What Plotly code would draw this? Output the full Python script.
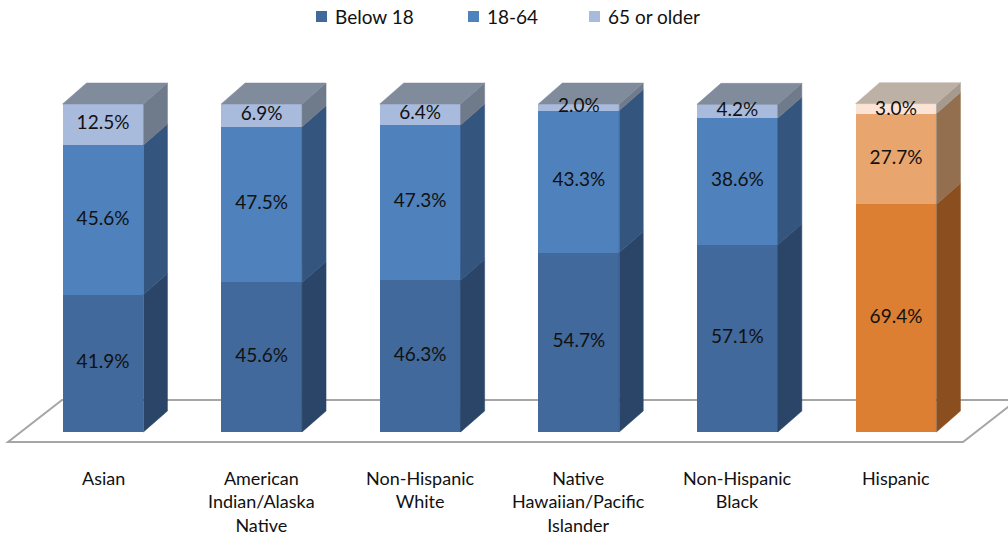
import plotly.graph_objects as go

# ---------------- data ----------------
categories = ["Asian", "American<br>Indian/Alaska<br>Native", "Non-Hispanic<br>White",
              "Native<br>Hawaiian/Pacific<br>Islander", "Non-Hispanic<br>Black", "Hispanic"]
below18 = [41.9, 45.6, 46.3, 54.7, 57.1, 69.4]
age18_64 = [45.6, 47.5, 47.3, 43.3, 38.6, 27.7]
age65plus = [12.5, 6.9, 6.4, 2.0, 4.2, 3.0]
series_names = ["Below 18", "18-64", "65 or older"]

# ---------------- style ----------------
W, H = 1008, 540
PX_X, X0PX = 158.6, 103.0      # pixels per category, pixel of first category
PX_Y, Y0PX = 3.28, 432.0       # pixels per percent, pixel of zero
BAR_W = 0.51
DX = 24 / PX_X
DY = 21 / PX_Y
FONT = "Lato"
TXT = "#111111"

blue = dict(front=["#41699B", "#4F81BD", "#A9BBDC"],
            side=["#2A4568", "#34557E", "#6F7A8B"],
            top="#808B9C")
orange = dict(front=["#DC7F32", "#E8A56D", "#FBE4D5"],
              side=["#8B4F1F", "#936F4F", "#A69A8F"],
              top="#BDB0A5")
palettes = [blue] * 5 + [orange]

series = [below18, age18_64, age65plus]
n = len(categories)
xs = list(range(n))

fig = go.Figure()

# front faces (stacked bars)
for j, (name, vals) in enumerate(zip(series_names, series)):
    fig.add_trace(go.Bar(
        x=xs, y=vals, name=name, width=BAR_W,
        marker=dict(color=[p["front"][j] for p in palettes], line=dict(width=0)),
        hoverinfo="name+y", showlegend=False,
    ))

# side and top faces (3D effect) from data
for i in xs:
    p = palettes[i]
    xr = i + BAR_W / 2
    xl = i - BAR_W / 2
    base = 0.0
    for j, vals in enumerate(series):
        top = base + vals[i]
        fig.add_trace(go.Scatter(
            x=[xr, xr + DX, xr + DX, xr, xr],
            y=[base, base + DY, top + DY, top, base],
            fill="toself", mode="lines", fillcolor=p["side"][j],
            line=dict(color=p["side"][j], width=0.5),
            showlegend=False, hoverinfo="skip"))
        base = top
    fig.add_trace(go.Scatter(
        x=[xl, xr, xr + DX, xl + DX, xl],
        y=[base, base, base + DY, base + DY, base],
        fill="toself", mode="lines", fillcolor=p["top"],
        line=dict(color=p["top"], width=0.5),
        showlegend=False, hoverinfo="skip"))

# data labels
lx, ly, lt = [], [], []
for i in xs:
    base = 0.0
    for vals in series:
        lx.append(i)
        mid = base + vals[i] / 2
        if vals[i] < 4:
            mid = base + 1.0
        ly.append(mid)
        lt.append(f"{vals[i]:.1f}%")
        base += vals[i]
fig.add_trace(go.Scatter(x=lx, y=ly, text=lt, mode="text",
                         textfont=dict(family=FONT, size=19, color=TXT),
                         showlegend=False, hoverinfo="skip"))

# floor
fy0 = (Y0PX - 442) / PX_Y
fy1 = (Y0PX - 400) / PX_Y
fx0 = (8 - X0PX) / PX_X
fx1 = (963 - X0PX) / PX_X
fdx = 54 / PX_X
fig.add_shape(type="path", xref="x", yref="y", layer="below",
              path=f"M {fx0} {fy0} L {fx1} {fy0} L {fx1 + fdx} {fy1} L {fx0 + fdx} {fy1} Z",
              line=dict(color="#A6A6A6", width=2), fillcolor="white")

# category labels
for i, c in enumerate(categories):
    fig.add_annotation(x=i, xref="x", y=1 - 465 / H, yref="paper",
                       text=c, showarrow=False, yanchor="top", xanchor="center",
                       font=dict(family=FONT, size=18, color=TXT))

# legend (square swatch + text), positioned in pixels
legend_x = [316, 468, 589]
for j, name in enumerate(series_names):
    x0 = legend_x[j] / W
    fig.add_shape(type="rect", xref="paper", yref="paper",
                  x0=x0, x1=(legend_x[j] + 11) / W,
                  y0=1 - 22 / H, y1=1 - 11 / H,
                  fillcolor=blue["front"][j], line=dict(width=0))
    fig.add_annotation(x=(legend_x[j] + 17) / W, xref="paper", y=1 - 17 / H, yref="paper",
                       text=name, showarrow=False, xanchor="left", yanchor="middle",
                       font=dict(family=FONT, size=19, color=TXT))

fig.update_layout(
    width=W, height=H,
    margin=dict(l=0, r=0, t=0, b=0),
    paper_bgcolor="white", plot_bgcolor="white",
    barmode="stack", bargap=0,
    xaxis=dict(range=[(0 - X0PX) / PX_X, (W - X0PX) / PX_X], visible=False, fixedrange=True),
    yaxis=dict(range=[(Y0PX - H) / PX_Y, Y0PX / PX_Y], visible=False, fixedrange=True),
    showlegend=False,
    font=dict(family=FONT),
)

fig.write_html("out.html")
